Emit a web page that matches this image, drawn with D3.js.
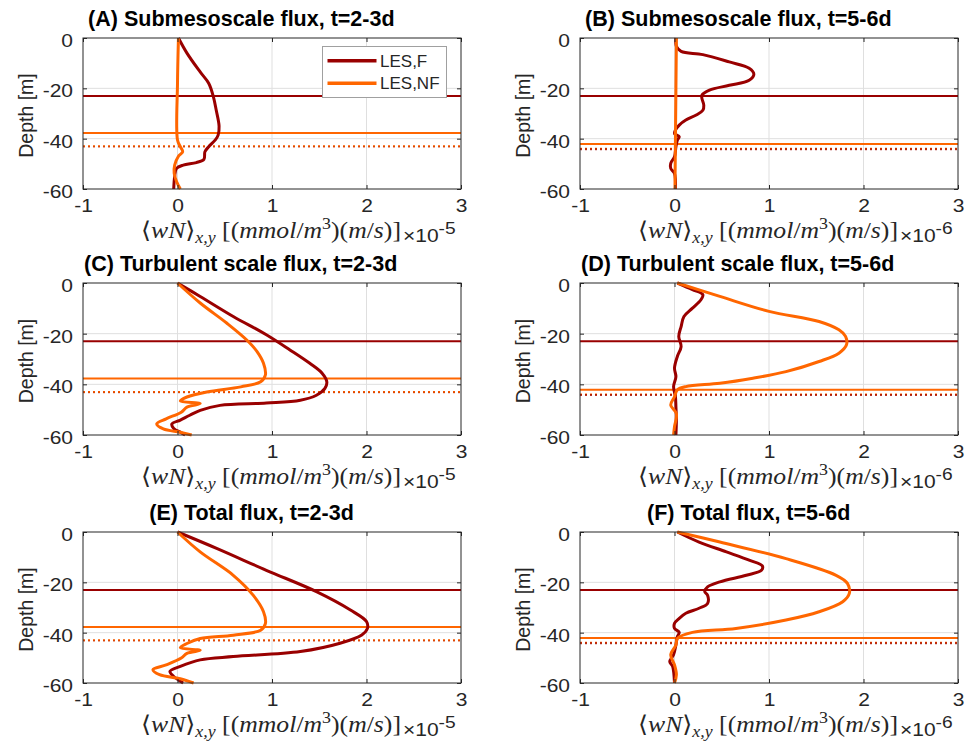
<!DOCTYPE html>
<html>
<head>
<meta charset="utf-8">
<script src="https://cdn.jsdelivr.net/npm/d3@7"></script>
<style>
  body { margin: 0; background: #fff; }
  svg { display: block; }
</style>
</head>
<body>
<svg id="fig" width="972" height="742"></svg>
<script>
// profiles: [x, depth] pairs, x in units of the panel's 10^exponent
const subF_23 = [[0.01,0],[0.1,-6],[0.24,-13.5],[0.33,-18],[0.38,-23.4],[0.41,-28.7],[0.44,-35],[0.43,-38.6],[0.40,-40.5],[0.33,-43.2],[0.29,-45.2],[0.28,-48.2],[0.2,-49.5],[0.06,-50.5],[-0.01,-51.8],[-0.03,-55],[-0.04,-60]];
const subNF_23 = [[0.01,0],[0.0,-18],[0.0,-40.5],[0.03,-43.2],[0.055,-45.2],[0.01,-47],[-0.03,-50.5],[-0.035,-53.8],[-0.01,-57],[0.03,-60]];
const subF_56 = [[0.015,0],[0.02,-3.3],[0.07,-5.3],[0.3,-6.6],[0.58,-9.5],[0.79,-12],[0.84,-14.4],[0.79,-16.8],[0.58,-18.8],[0.37,-20.7],[0.29,-22.7],[0.29,-24],[0.31,-26.7],[0.3,-28.7],[0.23,-30.6],[0.12,-32.6],[0.05,-34.6],[0.01,-36.6],[0.0,-38],[0.05,-39.2],[0.03,-40.6],[0.015,-43.2],[0.0,-47.2],[-0.04,-49.8],[-0.04,-51.8],[0.0,-53.8],[0.01,-60]];
const subNF_56 = [[0.02,0],[0.015,-20],[0.01,-40],[0.005,-60]];
const turbF_23 = [[0,0],[0.24,-5.3],[0.59,-13.2],[0.94,-20.4],[1.19,-26.4],[1.40,-31.7],[1.53,-35.6],[1.58,-39],[1.56,-41.6],[1.47,-44.3],[1.30,-46.3],[0.94,-47.4],[0.45,-48.3],[0.24,-50.3],[0.13,-52.2],[0.03,-54.1],[-0.06,-55.7],[-0.04,-57.4],[0.04,-59.1],[0.08,-60]];
const turbNF_23 = [[0,0],[0.24,-7.9],[0.52,-15.8],[0.73,-22.4],[0.84,-27],[0.91,-31.7],[0.93,-36.3],[0.88,-39],[0.67,-41],[0.31,-43],[0.1,-45],[0.03,-46.6],[0.24,-47.6],[0.1,-49],[0.04,-51],[-0.12,-53.6],[-0.22,-55.6],[-0.15,-57.6],[0.03,-58.9],[0.15,-60]];
const turbF_56 = [[0.03,0],[0.19,-2.6],[0.3,-4.6],[0.28,-6.6],[0.19,-9.9],[0.1,-13.2],[0.07,-17.2],[0.045,-21.1],[0.07,-25.1],[0.03,-29],[0.0,-33.6],[0.015,-37],[-0.01,-40.9],[0.01,-44.9],[0.015,-48.8],[0.02,-54],[0.015,-60]];
const turbNF_56 = [[0.03,0],[0.48,-5.3],[1.0,-11.2],[1.53,-15.2],[1.74,-18.5],[1.81,-21.1],[1.82,-24.4],[1.74,-27.7],[1.53,-31],[1.18,-35],[0.83,-37.6],[0.48,-39.6],[0.12,-40.9],[0.03,-42.2],[0.0,-44.9],[-0.04,-48.2],[0.02,-51.5],[0.0,-56.7],[-0.01,-60]];
const totF_23 = [[0,0],[0.42,-6.6],[0.94,-15.2],[1.47,-23.7],[1.83,-31],[2.0,-35.6],[2.01,-38.3],[1.95,-40.9],[1.72,-44.2],[1.30,-47.5],[0.59,-49.5],[0.24,-50.8],[0.03,-53.4],[-0.08,-55.4],[-0.04,-57.4],[0.06,-60]];
const totNF_23 = [[0,0],[0.24,-7.9],[0.59,-17.2],[0.80,-25.1],[0.91,-31.7],[0.93,-36.4],[0.88,-39],[0.59,-41],[0.24,-42.3],[0.1,-44.3],[0.03,-46],[0.24,-47],[0.1,-48.2],[0.04,-50.1],[-0.12,-52.8],[-0.26,-54.7],[-0.19,-56.7],[0.03,-58.3],[0.17,-60]];
const totF_56 = [[0.03,0],[0.26,-4],[0.55,-7.9],[0.79,-11.2],[0.93,-13.5],[0.92,-15.2],[0.76,-17.2],[0.48,-19.8],[0.35,-21.8],[0.32,-23.7],[0.35,-25.1],[0.35,-28.4],[0.26,-30.3],[0.12,-32.3],[0.05,-34.3],[0.0,-36.3],[0.0,-38.3],[0.05,-39.9],[0.03,-41.6],[0.015,-44.9],[-0.01,-48.8],[-0.05,-51.5],[-0.02,-53.4],[0.0,-60]];
const totNF_56 = [[0.03,0],[0.48,-4],[1.18,-10.6],[1.71,-17.2],[1.83,-20.4],[1.85,-24.4],[1.78,-27.7],[1.53,-31.7],[1.18,-35],[0.65,-38.3],[0.19,-39.9],[0.03,-42.3],[0.015,-44.9],[-0.04,-48.8],[0.0,-52.8],[0.02,-56.7],[0.0,-60]];

// layer depths per time window [t=2-3d, t=5-6d]
const mldF = [-23.0, -23.0];
const mldNF = [-37.7, -42.1];
const dotF = [-43.2, -44.2];
const dotNF = [-43.0, -44.0];

const titles = [
  "(A) Submesoscale flux, t=2-3d", "(B) Submesoscale flux, t=5-6d",
  "(C) Turbulent scale flux, t=2-3d", "(D) Turbulent scale flux, t=5-6d",
  "(E) Total flux, t=2-3d", "(F) Total flux, t=5-6d"
];
const exponents = ["-5", "-6"];
const seriesNames = ["LES,F", "LES,NF"];
const xTicks = [-1, 0, 1, 2, 3];
const yTicks = [-60, -40, -20, 0];

const panels = [
  [subF_23, subNF_23], [subF_56, subNF_56],
  [turbF_23, turbNF_23], [turbF_56, turbNF_56],
  [totF_23, totNF_23], [totF_56, totNF_56]
];

const RED = "#990000", ORANGE = "#ff6600";
const colors = [RED, ORANGE];
const AX = "#262626";
const SANS = "'Liberation Sans', Arial, Helvetica, sans-serif";
const SERIF = "'Liberation Serif', 'DejaVu Serif', serif";
const WIDE = 1.2; // the source's tick digits are wider than Arial's

const cols = [{ x0: 83, x1: 461 }, { x0: 580, x1: 958 }];
const rows = [{ y0: 38, y1: 189 }, { y0: 283, y1: 435 }, { y0: 532, y1: 683 }];

const svg = d3.select("#fig");
const fmt = d => String(d); // plain hyphen minus like the source

function xLabel(g, cx, y, exp) {
  const t = g.append("text")
    .attr("x", cx).attr("y", y)
    .attr("text-anchor", "middle")
    .attr("fill", AX)
    .attr("textLength", 260)
    .attr("lengthAdjust", "spacingAndGlyphs")
    .style("font-family", SERIF)
    .style("font-size", "23px");
  // [text, italic, size, dy]
  const parts = [
    ["\u27E8", false, 23, 0], ["wN", true, 23, 0], ["\u27E9", false, 23, 0],
    ["x,y", true, 16, 5], [" [(", false, 23, -5], ["mmol", true, 23, 0], ["/", false, 23, 0],
    ["m", true, 23, 0], ["3", false, 16, -9], [")(", false, 23, 9], ["m", true, 23, 0],
    ["/", false, 23, 0], ["s", true, 23, 0], [")]", false, 23, 0]
  ];
  parts.forEach(([s, it, size, dy]) => {
    t.append("tspan")
      .attr("dy", dy)
      .style("font-style", it ? "italic" : "normal")
      .style("font-size", size + "px")
      .text(s);
  });
  const m = g.append("text")
    .attr("transform", `translate(${cx + 132},${y + 4}) scale(${WIDE},1)`)
    .attr("fill", AX)
    .style("font-family", SANS)
    .style("font-size", "17.5px");
  m.append("tspan").text("\u00D710");
  m.append("tspan").attr("dy", -8).style("font-size", "16px").text(exp);
}

panels.forEach((series, i) => {
  const c = cols[i % 2], r = rows[Math.floor(i / 2)];
  const col = i % 2;
  const x = d3.scaleLinear().domain([-1, 3]).range([c.x0, c.x1]);
  const y = d3.scaleLinear().domain([-60, 0]).range([r.y1, r.y0]);
  const g = svg.append("g");

  // grid
  g.selectAll(".gx").data(xTicks.slice(1, -1)).enter().append("line")
    .attr("x1", d => x(d)).attr("x2", d => x(d))
    .attr("y1", r.y0).attr("y2", r.y1)
    .attr("stroke", "#dfdfdf").attr("stroke-width", 1);
  g.selectAll(".gy").data(yTicks.slice(1, -1)).enter().append("line")
    .attr("x1", c.x0).attr("x2", c.x1)
    .attr("y1", d => y(d)).attr("y2", d => y(d))
    .attr("stroke", "#dfdfdf").attr("stroke-width", 1);

  // layer depth lines
  const hline = (d, color, dash) => g.append("line")
    .attr("x1", c.x0).attr("x2", c.x1)
    .attr("y1", y(d)).attr("y2", y(d))
    .attr("stroke", color).attr("stroke-width", 2)
    .attr("stroke-dasharray", dash);
  hline(dotNF[col], ORANGE, "2,3");
  hline(dotF[col], RED, "2,3").attr("opacity", col === 0 ? 0.28 : 0.7);
  hline(mldF[col], RED, null);
  hline(mldNF[col], ORANGE, null);

  // profiles
  const line = d3.line()
    .x(d => x(d[0])).y(d => y(d[1]))
    .curve(d3.curveCatmullRom.alpha(0.5));
  series.forEach((s, k) => {
    g.append("path").datum(s)
      .attr("d", line)
      .attr("fill", "none")
      .attr("stroke", colors[k])
      .attr("stroke-width", 3)
      .attr("stroke-linejoin", "round");
  });

  // axes
  const styleAxis = a => {
    a.select(".domain").remove();
    a.selectAll("line").attr("stroke", AX);
    a.selectAll("text").attr("fill", AX).style("font-family", SANS).style("font-size", "17.5px");
  };
  g.append("g").attr("transform", `translate(0,${r.y1})`)
    .call(d3.axisBottom(x).tickValues(xTicks).tickSize(-4).tickSizeOuter(0).tickPadding(11).tickFormat(fmt))
    .call(styleAxis)
    .selectAll("text").attr("transform", `scale(${WIDE},1)`);
  g.append("g").attr("transform", `translate(0,${r.y0})`)
    .call(d3.axisTop(x).tickValues(xTicks).tickSize(-4).tickSizeOuter(0).tickFormat(""))
    .call(styleAxis);
  g.append("g").attr("transform", `translate(${c.x0},0)`)
    .call(d3.axisLeft(y).tickValues(yTicks).tickSize(-4).tickSizeOuter(0).tickPadding(10).tickFormat(fmt))
    .call(styleAxis)
    .selectAll("text")
    .attr("dy", "0.48em")
    .attr("x", -10 / WIDE)
    .attr("transform", `scale(${WIDE},1)`);
  g.append("g").attr("transform", `translate(${c.x1},0)`)
    .call(d3.axisRight(y).tickValues(yTicks).tickSize(-4).tickSizeOuter(0).tickFormat(""))
    .call(styleAxis);
  g.append("rect")
    .attr("x", c.x0).attr("y", r.y0)
    .attr("width", c.x1 - c.x0).attr("height", r.y1 - r.y0)
    .attr("fill", "none").attr("stroke", AX).attr("stroke-width", 1);

  // y label
  const ym = (r.y0 + r.y1) / 2 + 2;
  g.append("text")
    .attr("transform", `translate(${c.x0 - 50},${ym}) rotate(-90)`)
    .attr("text-anchor", "middle")
    .attr("fill", AX)
    .style("font-family", SANS).style("font-size", "19.5px")
    .text("Depth [m]");

  // x label
  xLabel(g, (c.x0 + c.x1) / 2 - 1, r.y1 + 49, exponents[col]);

  // title (placed like the source: left edge offset from centre)
  const tt = g.append("text")
    .attr("y", r.y0 - 12)
    .attr("fill", "#000")
    .style("font-family", SANS).style("font-weight", "bold").style("font-size", "21.5px")
    .text(titles[i]);
  const w = tt.node().getComputedTextLength();
  tt.attr("x", (c.x0 + c.x1) / 2 - 0.6 * w);

  // legend
  if (i === 0) {
    const lg = g.append("g");
    lg.append("rect")
      .attr("x", 322.5).attr("y", 46.5).attr("width", 124).attr("height", 51)
      .attr("fill", "#fff").attr("stroke", "#a0a0a0").attr("stroke-width", 1);
    seriesNames.forEach((name, k) => {
      const ly = 60.7 + k * 22.6;
      lg.append("line")
        .attr("x1", 327.5).attr("x2", 376.5).attr("y1", ly).attr("y2", ly)
        .attr("stroke", colors[k]).attr("stroke-width", 3.5);
      lg.append("text")
        .attr("x", 380).attr("y", ly + 6)
        .attr("fill", AX)
        .style("font-family", SANS).style("font-size", "17px")
        .text(name);
    });
  }
});
</script>
</body>
</html>
